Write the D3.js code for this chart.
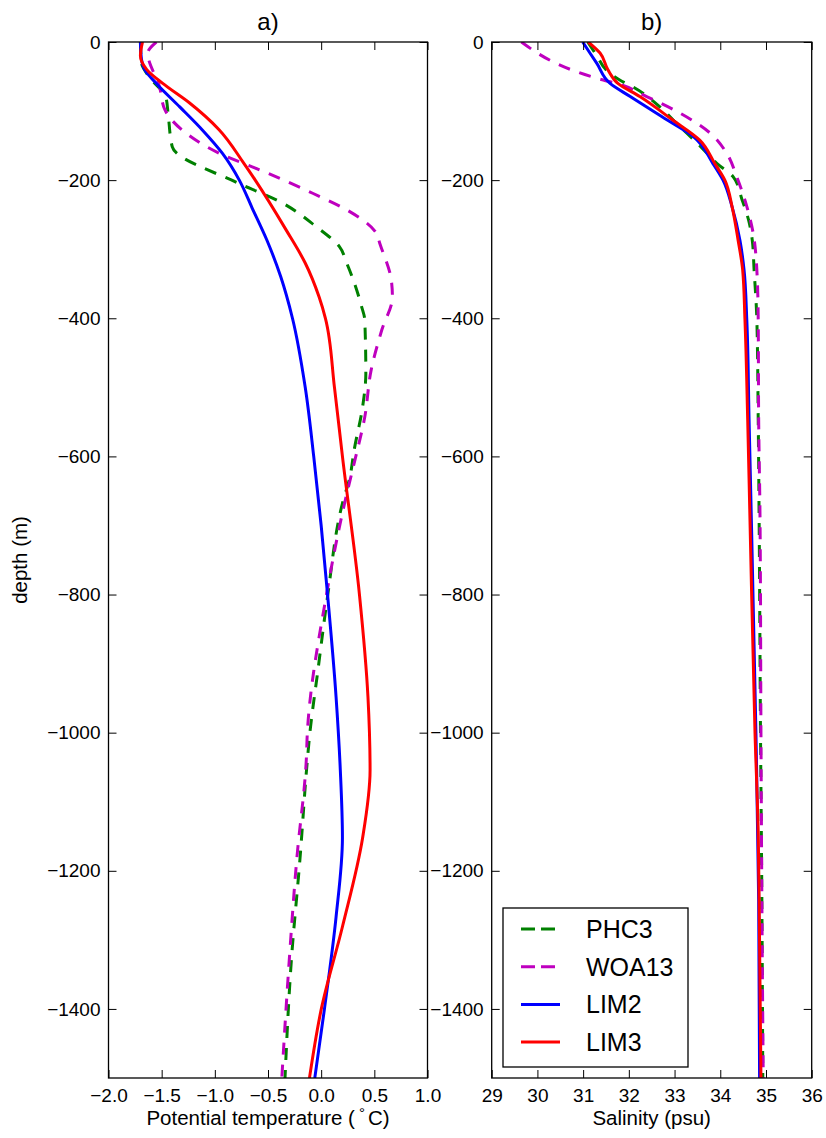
<!DOCTYPE html>
<html>
<head>
<meta charset="utf-8">
<script src="https://cdn.jsdelivr.net/npm/d3@7"></script>
<style>
  body { margin: 0; background: #fff; }
  text { font-family: "Liberation Sans", Arial, sans-serif; fill: #000; }
</style>
</head>
<body>
<div id="chart"></div>
<script>
// ---------------- data ----------------
// depths are in metres (positive down), plotted as negative values

// panel a) potential temperature
const phc3TempDepth = [0, 30, 50, 80, 103, 152, 205, 231, 267, 296, 320, 383, 402, 480, 528, 591, 630, 668, 803, 909, 1006, 1040, 1184, 1329, 1500];
const phc3Temp      = [-1.70, -1.69, -1.62, -1.46, -1.44, -1.40, -0.77, -0.39, -0.05, 0.17, 0.24, 0.38, 0.41, 0.42, 0.39, 0.31, 0.27, 0.20, 0.06, -0.03, -0.11, -0.13, -0.20, -0.28, -0.34];

const woa13TempDepth = [0, 16, 65, 98, 132, 161, 185, 219, 243, 277, 291, 345, 369, 417, 475, 543, 610, 668, 800, 1000, 1040, 1184, 1329, 1500];
const woa13Temp      = [-1.55, -1.63, -1.52, -1.47, -1.27, -0.96, -0.58, -0.08, 0.24, 0.52, 0.55, 0.66, 0.67, 0.57, 0.47, 0.41, 0.31, 0.22, 0.05, -0.13, -0.14, -0.23, -0.30, -0.37];

const lim2TempDepth = [0, 25, 40, 60, 94, 127, 161, 200, 240, 287, 340, 400, 500, 600, 700, 800, 948, 1054, 1152, 1267, 1401, 1500];
const lim2Temp      = [-1.70, -1.69, -1.66, -1.55, -1.33, -1.12, -0.93, -0.77, -0.65, -0.51, -0.38, -0.27, -0.15, -0.07, 0.00, 0.06, 0.14, 0.18, 0.20, 0.14, 0.03, -0.06];

const lim3TempDepth = [0, 20, 40, 60, 88, 127, 175, 200, 272, 320, 369, 400, 500, 600, 800, 948, 1054, 1152, 1281, 1401, 1500];
const lim3Temp      = [-1.68, -1.70, -1.64, -1.49, -1.24, -0.96, -0.73, -0.62, -0.33, -0.15, -0.02, 0.04, 0.125, 0.20, 0.36, 0.44, 0.46, 0.39, 0.20, 0.00, -0.11];

// panel b) salinity
const phc3SaltDepth = [0, 20, 40, 55, 65, 94, 113, 150, 176, 195, 229, 258, 287, 330, 402, 547, 692, 1000, 1242, 1500];
const phc3Salt      = [31.10, 31.30, 31.50, 31.80, 32.09, 32.68, 32.97, 33.55, 33.93, 34.28, 34.48, 34.62, 34.70, 34.74, 34.80, 34.83, 34.85, 34.88, 34.91, 34.93];

const woa13SaltDepth = [0, 55, 60, 79, 103, 132, 161, 195, 238, 277, 330, 402, 547, 692, 1000, 1242, 1500];
const woa13Salt      = [29.65, 31.44, 31.73, 32.39, 33.12, 33.78, 34.14, 34.36, 34.58, 34.72, 34.80, 34.83, 34.84, 34.87, 34.89, 34.91, 34.94];

const lim2SaltDepth = [0, 31, 60, 79, 113, 137, 176, 200, 239, 287, 330, 402, 547, 692, 1000, 1242, 1500];
const lim2Salt      = [30.99, 31.30, 31.59, 32.03, 32.84, 33.41, 33.84, 34.06, 34.26, 34.43, 34.52, 34.58, 34.63, 34.68, 34.78, 34.84, 34.86];

const lim3SaltDepth = [0, 16, 40, 60, 79, 113, 142, 176, 200, 239, 287, 330, 402, 547, 692, 1000, 1146, 1242, 1500];
const lim3Salt      = [31.11, 31.37, 31.54, 31.76, 32.24, 32.96, 33.55, 33.88, 34.10, 34.26, 34.39, 34.49, 34.54, 34.60, 34.65, 34.76, 34.83, 34.85, 34.89];

// legend / series names
const seriesNames = ["PHC3", "WOA13", "LIM2", "LIM3"];

// axis ticks
const depthTicks = [0, -200, -400, -600, -800, -1000, -1200, -1400];
const tempTicks  = [-2.0, -1.5, -1.0, -0.5, 0.0, 0.5, 1.0];
const saltTicks  = [29, 30, 31, 32, 33, 34, 35, 36];

// ---------------- styles ----------------
const seriesStyle = {
    "PHC3":  { color: "#008000", dash: "12,10" },
    "WOA13": { color: "#bf00bf", dash: "12,10" },
    "LIM2":  { color: "#0000ff", dash: null },
    "LIM3":  { color: "#ff0000", dash: null }
};

const W = 826, H = 1138;
const plotTop = 42, plotBottom = 1078;

const svg = d3.select("#chart")
    .append("svg")
    .attr("width", W)
    .attr("height", H);

const yScale = d3.scaleLinear().domain([-1500, 0]).range([plotBottom, plotTop]);

/**
 * zipSeries
 * Purpose: builds [{d, v}] points from a depth array and a value array
 */
function zipSeries(depths, values) {
    return depths.map((d, i) => ({ d: d, v: values[i] }));
}

/**
 * drawPanel
 * Purpose: draws one depth profile panel (frame, ticks, lines, labels)
 */
function drawPanel(opts) {
    const xScale = d3.scaleLinear().domain(opts.domain).range([opts.left, opts.right]);
    const g = svg.append("g");

    // data lines, smoothed along depth
    const line = d3.line()
        .x(p => xScale(p.v))
        .y(p => yScale(-p.d))
        .curve(d3.curveMonotoneY);

    g.append("clipPath").attr("id", opts.id + "clip")
        .append("rect")
        .attr("x", opts.left).attr("y", plotTop)
        .attr("width", opts.right - opts.left).attr("height", plotBottom - plotTop);

    const lines = g.append("g").attr("clip-path", "url(#" + opts.id + "clip)");
    opts.series.forEach(s => {
        const st = seriesStyle[s.name];
        lines.append("path")
            .datum(s.points)
            .attr("d", line)
            .attr("fill", "none")
            .attr("stroke", st.color)
            .attr("stroke-width", 3)
            .attr("stroke-dasharray", st.dash)
            .attr("stroke-linejoin", "round");
    });

    // axes: ticks inward on all sides, labels bottom & left
    const tickLen = 8;
    const axB = d3.axisBottom(xScale).tickValues(opts.ticks).tickFormat(opts.fmt).tickSize(-tickLen).tickPadding(11);
    const axT = d3.axisTop(xScale).tickValues(opts.ticks).tickFormat("").tickSize(-tickLen);
    const axL = d3.axisLeft(yScale).tickValues(depthTicks).tickFormat(d3.format("d")).tickSize(-tickLen).tickPadding(8);
    const axR = d3.axisRight(yScale).tickValues(depthTicks).tickFormat("").tickSize(-tickLen);

    const gB = g.append("g").attr("transform", "translate(0," + plotBottom + ")").call(axB);
    const gT = g.append("g").attr("transform", "translate(0," + plotTop + ")").call(axT);
    const gL = g.append("g").attr("transform", "translate(" + opts.left + ",0)").call(axL);
    const gR = g.append("g").attr("transform", "translate(" + opts.right + ",0)").call(axR);

    [gB, gT, gL, gR].forEach(a => {
        a.select(".domain").remove();
        a.selectAll(".tick line").attr("stroke", "#000").attr("stroke-width", 1);
        a.selectAll(".tick text")
            .attr("font-size", "19px")
            .attr("fill", "#000")
            .style("font-family", "'Liberation Sans', Arial, sans-serif");
    });

    // frame
    g.append("rect")
        .attr("x", opts.left).attr("y", plotTop)
        .attr("width", opts.right - opts.left)
        .attr("height", plotBottom - plotTop)
        .attr("fill", "none")
        .attr("stroke", "#000")
        .attr("stroke-width", 1.3);

    // title
    g.append("text")
        .attr("x", (opts.left + opts.right) / 2)
        .attr("y", 30)
        .attr("text-anchor", "middle")
        .attr("font-size", "24px")
        .text(opts.title);

    // x label
    const xl = g.append("text")
        .attr("x", (opts.left + opts.right) / 2)
        .attr("y", 1125)
        .attr("text-anchor", "middle")
        .attr("font-size", "20.5px");
    opts.xlabel(xl);

    return g;
}

// panel a
drawPanel({
    id: "a",
    left: 108.5, right: 427.5,
    domain: [-2, 1],
    ticks: tempTicks,
    fmt: d3.format(".1f"),
    title: "a)",
    xlabel: t => {
        t.append("tspan").text("Potential temperature (");
        t.append("tspan").attr("dx", 4).attr("dy", -7).attr("font-size", "15px").text("\u00b0");
        t.append("tspan").attr("dx", 3).attr("dy", 7).text("C)");
    },
    series: [
        { name: "PHC3",  points: zipSeries(phc3TempDepth, phc3Temp) },
        { name: "WOA13", points: zipSeries(woa13TempDepth, woa13Temp) },
        { name: "LIM2",  points: zipSeries(lim2TempDepth, lim2Temp) },
        { name: "LIM3",  points: zipSeries(lim3TempDepth, lim3Temp) }
    ]
});

// panel b
drawPanel({
    id: "b",
    left: 491.7, right: 811.7,
    domain: [29, 36],
    ticks: saltTicks,
    fmt: d3.format("d"),
    title: "b)",
    xlabel: t => t.text("Salinity (psu)"),
    series: [
        { name: "PHC3",  points: zipSeries(phc3SaltDepth, phc3Salt) },
        { name: "WOA13", points: zipSeries(woa13SaltDepth, woa13Salt) },
        { name: "LIM2",  points: zipSeries(lim2SaltDepth, lim2Salt) },
        { name: "LIM3",  points: zipSeries(lim3SaltDepth, lim3Salt) }
    ]
});

// y label
svg.append("text")
    .attr("transform", "translate(27,560) rotate(-90)")
    .attr("text-anchor", "middle")
    .attr("font-size", "20.5px")
    .text("depth (m)");

// legend (inside panel b, lower left)
const leg = svg.append("g");
leg.append("rect")
    .attr("x", 503).attr("y", 908)
    .attr("width", 185).attr("height", 159)
    .attr("fill", "#fff")
    .attr("stroke", "#000")
    .attr("stroke-width", 1.3);

seriesNames.forEach((name, i) => {
    const st = seriesStyle[name];
    const yy = 929 + i * 37.7;
    leg.append("line")
        .attr("x1", 521).attr("x2", 560)
        .attr("y1", yy).attr("y2", yy)
        .attr("stroke", st.color)
        .attr("stroke-width", 3)
        .attr("stroke-dasharray", st.dash ? "14,6" : null);
    leg.append("text")
        .attr("x", 586)
        .attr("y", yy + 9)
        .attr("font-size", "25px")
        .text(name);
});
</script>
</body>
</html>
